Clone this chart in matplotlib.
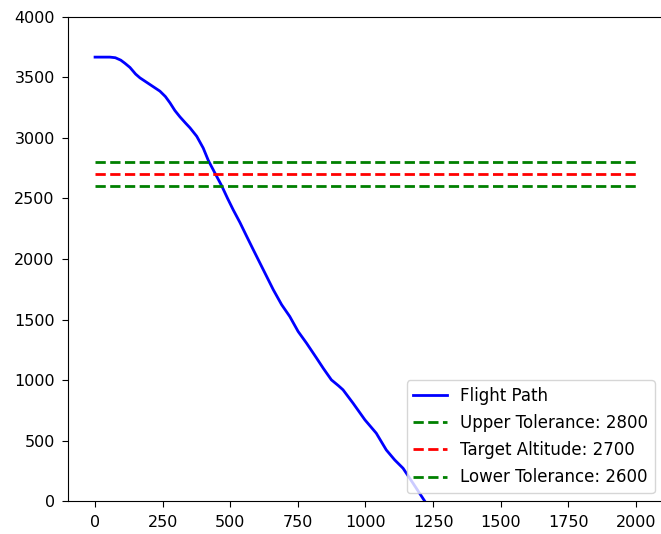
import matplotlib
matplotlib.use("Agg")
import matplotlib.pyplot as plt

# distance along track vs altitude
distance = [0, 55, 75, 95, 110, 129, 150, 166, 203, 240, 260, 277, 295, 314,
            335, 351, 376, 400, 419, 443, 468, 490, 511, 536, 560, 585, 622,
            659, 690, 720, 751, 782, 819, 845, 874, 900, 917, 954, 998, 1040,
            1077, 1108, 1139, 1176, 1220]
altitude = [3665, 3665, 3660, 3640, 3615, 3580, 3525, 3494, 3439, 3384, 3340,
            3288, 3225, 3172, 3120, 3082, 3012, 2915, 2812, 2710, 2605, 2500,
            2405, 2300, 2190, 2077, 1912, 1747, 1623, 1526, 1402, 1306, 1183,
            1095, 1003, 955, 921, 811, 673, 563, 425, 343, 274, 150, 0]

target_alt = 2700
tolerance = 100
x_range = [0, 2000]

fig = plt.figure(figsize=(6.61, 5.34), dpi=100)
ax = fig.add_axes([0.1029, 0.0609, 0.9000, 0.9082])

ax.plot(distance, altitude, color='b', lw=2, label='Flight Path')
ax.plot(x_range, [target_alt + tolerance] * 2, 'g--', lw=2,
        label=f'Upper Tolerance: {target_alt + tolerance}')
ax.plot(x_range, [target_alt] * 2, 'r--', lw=2,
        label=f'Target Altitude: {target_alt}')
ax.plot(x_range, [target_alt - tolerance] * 2, 'g--', lw=2,
        label=f'Lower Tolerance: {target_alt - tolerance}')

ax.set_xlim(-100, 2100)
ax.set_ylim(0, 4000)
ax.set_xticks(range(0, 2001, 250))
ax.set_yticks(range(0, 4001, 500))
ax.tick_params(labelsize=11.5, pad=5, length=4.5)

ax.legend(loc='lower right', fontsize=12, labelspacing=0.55)

fig.savefig("out.png", dpi=100)
